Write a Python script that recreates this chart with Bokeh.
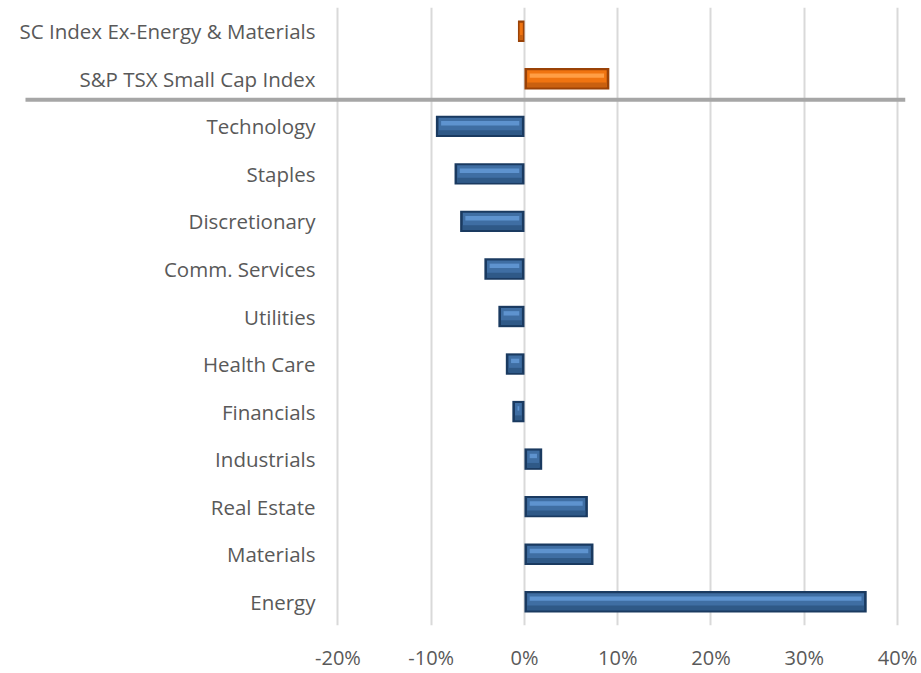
from bokeh.plotting import figure
from bokeh.models import Range1d, FixedTicker, ColumnDataSource
from bokeh.core.properties import value
from bokeh.embed import file_html
from bokeh.resources import INLINE

# ---- data (top row first) ----
categories = ["SC Index Ex-Energy & Materials", "S&P TSX Small Cap Index",
              "Technology", "Staples", "Discretionary", "Comm. Services",
              "Utilities", "Health Care", "Financials", "Industrials",
              "Real Estate", "Materials", "Energy"]
returns_pct = [-0.7, 9.1, -9.5, -7.5, -6.9, -4.3, -2.8, -2.0, -1.3, 1.9, 6.8, 7.4, 36.7]
index_rows = 2  # first two rows are the index benchmarks
tick_values = [-20, -10, 0, 10, 20, 30, 40]
tick_labels = ["-20%", "-10%", "0%", "10%", "20%", "30%", "40%"]

n = len(categories)
ys = [n - i - 0.5 for i in range(n)]
half_h = 0.225

x_start, x_end = -56.19, 40.86

p = figure(width=921, height=673, output_backend="svg", toolbar_location=None,
           x_range=Range1d(x_start, x_end), y_range=Range1d(0, n),
           y_axis_location=None)
p.min_border_left = 0
p.min_border_right = 16
p.min_border_top = 7
p.min_border_bottom = 43
p.outline_line_color = None
p.background_fill_color = "white"
p.border_fill_color = "white"

p.xaxis.ticker = FixedTicker(ticks=tick_values)
p.xaxis.major_label_overrides = {t: l for t, l in zip(tick_values, tick_labels)}
p.xaxis.axis_line_color = None
p.xaxis.major_tick_line_color = None
p.xaxis.major_tick_out = 0
p.xaxis.major_tick_in = 0
p.xaxis.minor_tick_line_color = None
p.xaxis.minor_tick_out = 0
p.xaxis.major_label_standoff = 18
p.xaxis.major_label_text_font = "Open Sans"
p.xaxis.major_label_text_font_size = "20px"
p.xaxis.major_label_text_color = "#595959"
p.xgrid.ticker = FixedTicker(ticks=tick_values)
p.xgrid.grid_line_color = "#D9D9D9"
p.xgrid.grid_line_width = 2
p.ygrid.visible = False

# separator between index rows and sectors
sep_y = n - index_rows + 0.06
p.segment(x0=[-53.51], x1=[x_end], y0=[sep_y], y1=[sep_y],
          line_color="#A6A6A6", line_width=4)

def layers(vals, yvals):
    out = {"outer": ([], [], [], []), "mid": ([], [], [], []),
           "hi": ([], [], [], []), "lo": ([], [], [], [])}
    for v, y in zip(vals, yvals):
        l, r = min(0, v), max(0, v)
        w = r - l
        ix = min(0.28, w / 4)
        iy = 0.045
        out["outer"][0].append(l); out["outer"][1].append(r)
        out["outer"][2].append(y + half_h); out["outer"][3].append(y - half_h)
        out["mid"][0].append(l + ix); out["mid"][1].append(r - ix)
        out["mid"][2].append(y + half_h - iy); out["mid"][3].append(y - half_h + iy)
        out["hi"][0].append(l + ix * 2); out["hi"][1].append(r - ix * 2)
        out["hi"][2].append(y + half_h - iy * 2.5); out["hi"][3].append(y + 0.02)
        out["lo"][0].append(l + ix); out["lo"][1].append(r - ix)
        out["lo"][2].append(y - 0.08); out["lo"][3].append(y - half_h + iy)
    return out

sector_vals = returns_pct[index_rows:]
sector_ys = ys[index_rows:]
index_vals = returns_pct[:index_rows]
index_ys = ys[:index_rows]

schemes = [
    (sector_vals, sector_ys, {"outer": "#1A3A60", "mid": "#3F6EA3", "hi": "#5E93CF", "lo": "#2F5987"}),
    (index_vals, index_ys, {"outer": "#9A4207", "mid": "#F07410", "hi": "#FF9E45", "lo": "#C9600F"}),
]
for vals, yv, cols in schemes:
    lay = layers(vals, yv)
    for key in ["outer", "mid", "hi", "lo"]:
        l, r, t, b = lay[key]
        p.quad(left=l, right=r, top=t, bottom=b, fill_color=cols[key], line_color=None)

# category labels
label_src = ColumnDataSource(dict(x=[-22.41] * n, y=ys, text=categories))
p.text(x="x", y="y", text="text", source=label_src, text_align="right",
       text_baseline="middle", text_font=value("Open Sans"),
       text_font_size="20.5px", text_color="#595959")

open("out.html", "w").write(file_html(p, INLINE))
